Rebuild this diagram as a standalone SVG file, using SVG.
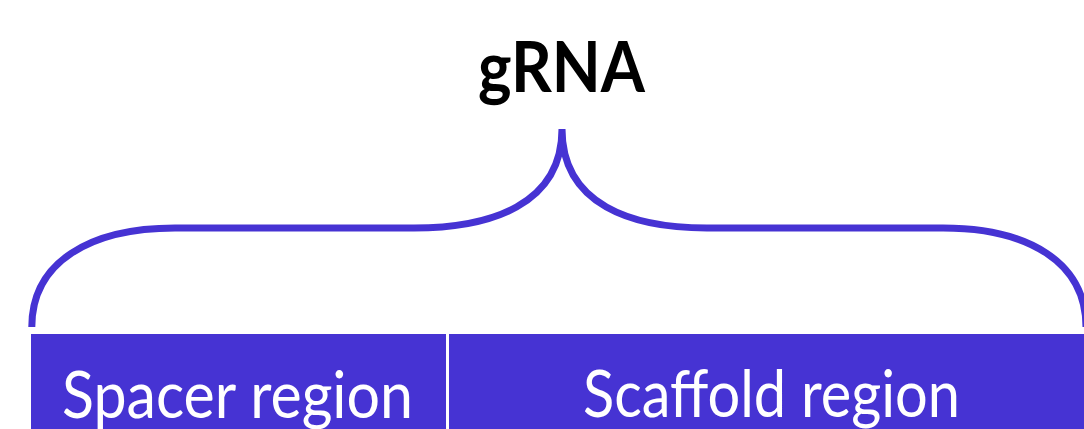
<svg xmlns="http://www.w3.org/2000/svg" width="1084" height="429" viewBox="0 0 1084 429">
  <style>
    .box { fill: #4633D3; }
    .lbl { font-family: Lato, "Liberation Sans", sans-serif; font-size: 66px; fill: #FFFFFF; text-anchor: middle; }
    .title { font-family: Lato, "Liberation Sans", sans-serif; font-size: 70px; font-weight: bold; fill: #000000; text-anchor: middle; }
    .brace { fill: none; stroke: #4633D3; stroke-width: 7; }
  </style>
  <g id="title">
    <text class="title" x="561.5" y="92" textLength="167" lengthAdjust="spacingAndGlyphs">gRNA</text>
  </g>
  <g id="connectors">
    <path class="brace" d="M 31.8 327 C 31.8 262, 90 228, 175 228 L 414 228 C 490 228, 562 205, 562 129 C 562 205, 632 228, 707 228 L 943 228 C 1028 228, 1086 262, 1086 327"/>
  </g>
  <g id="spacer">
    <rect class="box" x="31" y="334" width="415" height="95"/>
    <text class="lbl" x="237.5" y="418" textLength="351" lengthAdjust="spacingAndGlyphs">Spacer region</text>
  </g>
  <g id="scaffold">
    <rect class="box" x="449" y="334" width="635" height="95"/>
    <text class="lbl" x="771.5" y="417" textLength="377" lengthAdjust="spacingAndGlyphs">Scaffold region</text>
  </g>
</svg>
